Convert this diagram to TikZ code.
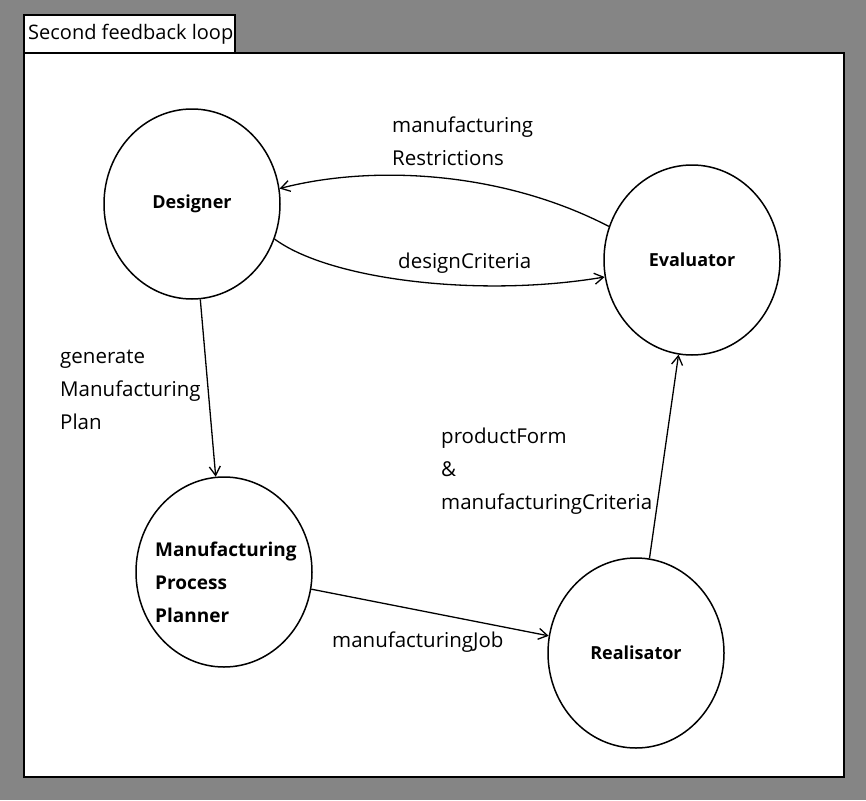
\documentclass[tikz,border=0pt]{standalone}
\usepackage{fontspec}
\setmainfont{Open Sans}
\usetikzlibrary{shapes.geometric,arrows.meta}

\begin{document}
\begin{tikzpicture}[x=1pt,y=-1pt,
  agent/.style={ellipse, draw, line width=1.5pt, minimum width=176pt,
    minimum height=190pt, inner sep=0pt, font=\bfseries\fontsize{18}{33}\selectfont},
  agentname/.style={font=\bfseries\fontsize{19}{33}\selectfont, align=left, inner sep=0pt},
  msg/.style={font=\fontsize{20.5}{33}\selectfont, align=left, inner sep=0pt, anchor=base west},
  flow/.style={line width=1.3pt, -{Straight Barb[length=9pt,width=11pt]}}]

% window background and frame
\fill[black!48] (0,0) rectangle (866,800);
\useasboundingbox (0,0) rectangle (866,800);
\draw[fill=white, line width=2.5pt] (24,53) rectangle (844,777);
\draw[fill=white, line width=2pt] (24,15) rectangle (235,53);
\node[anchor=west, inner sep=0pt, font=\fontsize{20}{24}\selectfont] (title) at (28,34) {Second feedback loop};

% agents
\node[agent] (des) at (192,204) {Designer};
\node[agent] (eval) at (692,260) {Evaluator};
\node[agent] (mpp) at (224,572) {};
\node[agentname, anchor=west] (mppname) at (155,582) {Manufacturing\\Process\\Planner};
\node[agent] (real) at (636,653) {Realisator};

% message flows
\draw[flow] (eval.158) .. controls (500,170) and (370,165) .. (des.10);
\draw[flow] (des.-23) .. controls (330,280) and (480,298) .. (eval.191);
\draw[flow] (des) -- (mpp);
\draw[flow] (mpp) -- (real);
\draw[flow] (real) -- (eval);

% message labels (base = last line)
\node[msg] (lrestr) at (392,165) {manufacturing\\Restrictions};
\node[msg] (lcrit) at (398,268) {designCriteria};
\node[msg] (lplan) at (60,429) {generate\\Manufacturing\\Plan};
\node[msg] (lform) at (441,509) {productForm\\\&\\manufacturingCriteria};
\node[msg] (ljob) at (332,647) {manufacturingJob};
\end{tikzpicture}
\end{document}
